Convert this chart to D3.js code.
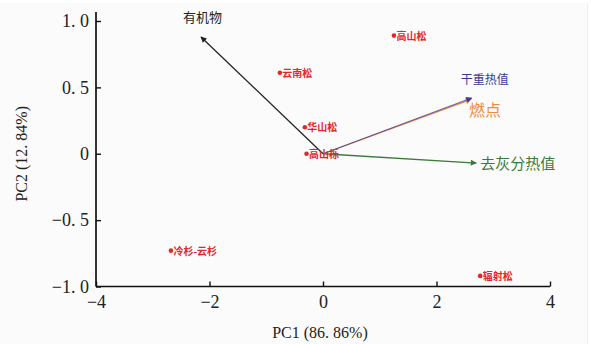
<!DOCTYPE html>
<html><head><meta charset="utf-8">
<script src="https://cdn.jsdelivr.net/npm/d3@7"></script>
<style>body{margin:0;background:#fff}svg{display:block}</style>
</head><body>
<script>
const xTicks = [-4, -2, 0, 2, 4];
const xTickLabels = ["\u22124", "\u22122", "0", "2", "4"];
const yTicks = [1.0, 0.5, 0, -0.5, -1.0];
const yTickLabels = ["1. 0", "0. 5", "0", "\u22120. 5", "\u22121. 0"];
const pointNames = ["高山松", "云南松", "华山松", "高山栎", "冷杉-云杉", "辐射松"];
const pointPC1 = [1.25, -0.76, -0.32, -0.29, -2.68, 2.77];
const pointPC2 = [0.89, 0.61, 0.20, 0.00, -0.73, -0.92];
const vecNames = ["有机物", "燃点", "干重热值", "去灰分热值"];
const vecPC1 = [-2.15, 2.61, 2.62, 2.70];
const vecPC2 = [0.88, 0.41, 0.42, -0.07];
const vecColors = ["#222222", "#f08a3c", "#3a3a9a", "#3a7a3a"];

const W = 596, H = 344;
const svg = d3.select("body").append("svg").attr("width", W).attr("height", H);
svg.append("rect").attr("x", 0).attr("y", 3).attr("width", 587).attr("height", H - 3).attr("fill", "#fbfbfb");
svg.append("line").attr("x1", 587.5).attr("x2", 587.5).attr("y1", 3).attr("y2", H).attr("stroke", "#eeeeee");

const x = d3.scaleLinear().domain([-4, 4]).range([96, 550]);
const y = d3.scaleLinear().domain([-1, 1]).range([286.5, 21]);

const defs = svg.append("defs");
vecColors.forEach((c, i) => {
  defs.append("marker").attr("id", "ar" + i).attr("viewBox", "0 0 10 10")
    .attr("refX", 9).attr("refY", 5).attr("markerWidth", 8).attr("markerHeight", 6)
    .attr("orient", "auto").attr("markerUnits", "userSpaceOnUse")
    .append("path").attr("d", "M0,0 L10,5 L0,10 z").attr("fill", c);
});

const serif = "Liberation Serif, DejaVu Serif, serif";
// axes
const xAxis = d3.axisBottom(x).tickValues(xTicks).tickSizeInner(-5).tickSizeOuter(0).tickFormat((d, i) => xTickLabels[i]);
const gx = svg.append("g").attr("transform", `translate(0,${y(-1)})`).call(xAxis);
gx.select(".domain").attr("stroke", "#111").attr("stroke-width", 1.7).attr("d", `M${x(-4)},0H${x(4)}`);
gx.selectAll(".tick line").attr("stroke", "#111").attr("stroke-width", 1.4);
gx.selectAll(".tick text").attr("font-family", serif).attr("font-size", 18).attr("fill", "#222").attr("dy", "1.0em");

const yAxis = d3.axisLeft(y).tickValues(yTicks).tickSizeInner(-5).tickSizeOuter(0).tickFormat((d, i) => yTickLabels[i]);
const gy = svg.append("g").attr("transform", `translate(${x(-4)},0)`).call(yAxis);
gy.select(".domain").attr("stroke", "#111").attr("stroke-width", 1.7).attr("d", `M0,12V${y(-1)}`);
gy.selectAll(".tick line").attr("stroke", "#111").attr("stroke-width", 1.4);
gy.selectAll(".tick text").attr("font-family", serif).attr("font-size", 18).attr("fill", "#222").attr("x", -7);

svg.append("text").attr("x", 320).attr("y", 338).attr("text-anchor", "middle")
  .attr("font-family", serif).attr("font-size", 16).attr("fill", "#222")
  .text("PC1 (86. 86%)");
svg.append("text").attr("transform", `translate(27,${y(0)}) rotate(-90)`).attr("text-anchor", "middle")
  .attr("font-family", serif).attr("font-size", 16).attr("fill", "#222")
  .text("PC2 (12. 84%)");

// vectors
const vecLabelPos = [
  {dx: -18, dy: -15, size: 13, op: 1},
  {dx: -2, dy: 17, size: 16, op: 1},
  {dx: -11, dy: -14, size: 12, op: 0.75},
  {dx: 4, dy: 6, size: 15, op: 1}
];
vecNames.forEach((n, i) => {
  svg.append("line").attr("x1", x(0)).attr("y1", y(0)).attr("x2", x(vecPC1[i])).attr("y2", y(vecPC2[i]))
    .attr("stroke", vecColors[i]).attr("stroke-width", 1.3).attr("stroke-opacity", vecLabelPos[i].op)
    .attr("marker-end", `url(#ar${i})`);
});
vecNames.forEach((n, i) => {
  const p = vecLabelPos[i];
  svg.append("text").attr("x", x(vecPC1[i]) + p.dx).attr("y", y(vecPC2[i]) + p.dy)
    .attr("font-family", "Noto Sans CJK SC, sans-serif").attr("font-size", p.size)
    .attr("fill", vecColors[i]).text(n);
});

// points
pointNames.forEach((n, i) => {
  svg.append("circle").attr("cx", x(pointPC1[i])).attr("cy", y(pointPC2[i])).attr("r", 2.3).attr("fill", "#e3262b");
  svg.append("text").attr("x", x(pointPC1[i]) + 2.5).attr("y", y(pointPC2[i]) + 4)
    .attr("font-family", "Noto Sans CJK SC, sans-serif").attr("font-size", 10).attr("font-weight", "bold")
    .attr("fill", "#e3262b").text(n);
});
</script>
</body></html>
